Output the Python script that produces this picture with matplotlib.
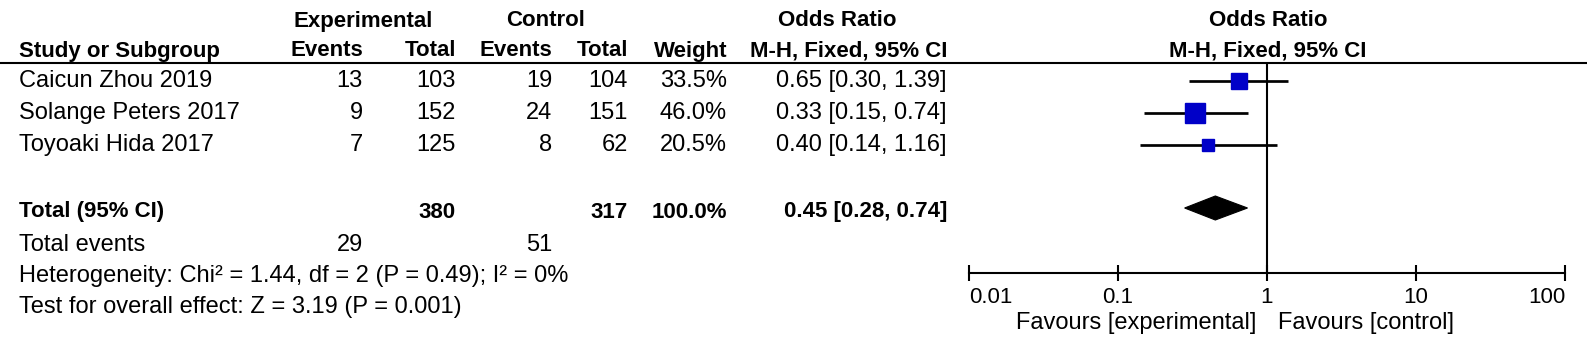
import numpy as np
import matplotlib
matplotlib.use("Agg")
import matplotlib.pyplot as plt
from matplotlib.patches import Polygon

plt.rcParams['font.family'] = ['Liberation Sans', 'DejaVu Sans']

# ── Data ──────────────────────────────────────────────────────────────────────
studies     = ['Caicun Zhou 2019', 'Solange Peters 2017', 'Toyoaki Hida 2017']
exp_events  = [13, 9, 7]
exp_total   = [103, 152, 125]
ctrl_events = [19, 24, 8]
ctrl_total  = [104, 151, 62]
weights     = [33.5, 46.0, 20.5]
or_est      = [0.65, 0.33, 0.40]
ci_lo       = [0.30, 0.15, 0.14]
ci_hi       = [1.39, 0.74, 1.16]

pooled_or   = 0.45
pooled_lo   = 0.28
pooled_hi   = 0.74

heterogeneity = 'Heterogeneity: Chi² = 1.44, df = 2 (P = 0.49); I² = 0%'
overall_test  = 'Test for overall effect: Z = 3.19 (P = 0.001)'

tick_vals   = [0.01, 0.1, 1, 10, 100]
tick_labels = ['0.01', '0.1', '1', '10', '100']

# ── Layout (pixel grid) ───────────────────────────────────────────────────────
W, H = 1587, 350
FS = 17       # body text
FS_B = 16     # bold headers / totals
BLUE = '#0000C8'
LW = 1.5

fig = plt.figure(figsize=(W / 100, H / 100), dpi=100, facecolor='white')
ax = fig.add_axes([0, 0, 1, 1])
ax.set_xlim(0, W)
ax.set_ylim(H, 0)
ax.axis('off')

# column right edges
X_NAME = 19
X_EEV, X_ETOT, X_CEV, X_CTOT, X_WT, X_CI = 363, 456, 552, 628, 727, 947
row_y = [81, 113, 145]
Y_TOTAL, Y_EVENTS, Y_HET, Y_TEST = 212, 245, 276, 307
Y_H1, Y_H2, Y_LINE = 21, 51, 63

def txt(x, y, s, ha='right', bold=False):
    ax.text(x, y, s, ha=ha, va='center', fontsize=FS_B if bold else FS,
            fontweight='bold' if bold else 'normal')

# headers
txt(363, Y_H1, 'Experimental', ha='center', bold=True)
txt(546, Y_H1, 'Control', ha='center', bold=True)
txt(837, Y_H1, 'Odds Ratio', ha='center', bold=True)
txt(1268, Y_H1, 'Odds Ratio', ha='center', bold=True)

txt(X_NAME, Y_H2, 'Study or Subgroup', ha='left', bold=True)
txt(X_EEV, Y_H2, 'Events', bold=True)
txt(X_ETOT, Y_H2, 'Total', bold=True)
txt(X_CEV, Y_H2, 'Events', bold=True)
txt(X_CTOT, Y_H2, 'Total', bold=True)
txt(X_WT, Y_H2, 'Weight', bold=True)
txt(X_CI, Y_H2, 'M-H, Fixed, 95% CI', bold=True)
txt(1268, Y_H2, 'M-H, Fixed, 95% CI', ha='center', bold=True)

ax.plot([0, W], [Y_LINE, Y_LINE], color='black', lw=LW, solid_capstyle='butt')

# study rows
for i, y in enumerate(row_y):
    txt(X_NAME, y, studies[i], ha='left')
    txt(X_EEV, y, str(exp_events[i]))
    txt(X_ETOT, y, str(exp_total[i]))
    txt(X_CEV, y, str(ctrl_events[i]))
    txt(X_CTOT, y, str(ctrl_total[i]))
    txt(X_WT, y, f'{weights[i]:.1f}%')
    txt(X_CI, y, f'{or_est[i]:.2f} [{ci_lo[i]:.2f}, {ci_hi[i]:.2f}]')

# totals
txt(X_NAME, Y_TOTAL, 'Total (95% CI)', ha='left', bold=True)
txt(X_ETOT, Y_TOTAL, str(sum(exp_total)), bold=True)
txt(X_CTOT, Y_TOTAL, str(sum(ctrl_total)), bold=True)
txt(X_WT, Y_TOTAL, f'{sum(weights):.1f}%', bold=True)
txt(X_CI, Y_TOTAL, f'{pooled_or:.2f} [{pooled_lo:.2f}, {pooled_hi:.2f}]', bold=True)

txt(X_NAME, Y_EVENTS, 'Total events', ha='left')
txt(X_EEV, Y_EVENTS, str(sum(exp_events)))
txt(X_CEV, Y_EVENTS, str(sum(ctrl_events)))
txt(X_NAME, Y_HET, heterogeneity, ha='left')
txt(X_NAME, Y_TEST, overall_test, ha='left')

# ── Forest plot ───────────────────────────────────────────────────────────────
AX_L, AX_R, AX_TOP, AX_BOT = 969, 1565, Y_LINE, 273
fa = fig.add_axes([AX_L / W, 1 - AX_BOT / H, (AX_R - AX_L) / W, (AX_BOT - AX_TOP) / H])
fa.patch.set_visible(False)
fa.set_xscale('log')
fa.set_xlim(tick_vals[0], tick_vals[-1])
fa.set_ylim(AX_BOT, AX_TOP)
for s in ['left', 'right', 'top']:
    fa.spines[s].set_visible(False)
fa.spines['bottom'].set_linewidth(LW)
fa.set_yticks([])
fa.set_xticks(tick_vals)
fa.set_xticklabels(tick_labels)
fa.minorticks_off()
fa.tick_params(axis='x', direction='inout', length=12, width=LW, pad=4, labelsize=16)
labs = fa.get_xticklabels()
labs[0].set_ha('left')
labs[-1].set_ha('right')

fa.axvline(1, color='black', lw=LW)

for i, y in enumerate(row_y):
    fa.plot([ci_lo[i], ci_hi[i]], [y, y], color='black', lw=LW * 1.3, solid_capstyle='butt')
    sq = (4 + 0.35 * weights[i]) * 0.72
    fa.plot(or_est[i], y, marker='s', ms=sq, color=BLUE, mec=BLUE, zorder=3)

dia_y = 208
fa.add_patch(Polygon([(pooled_lo, dia_y), (pooled_or, dia_y - 12),
                      (pooled_hi, dia_y), (pooled_or, dia_y + 12)],
                     closed=True, facecolor='black', edgecolor='black', lw=0.8))

txt(1256, 323, 'Favours [experimental]')
txt(1278, 323, 'Favours [control]', ha='left')

fig.savefig('out.png', dpi=100, facecolor='white')
